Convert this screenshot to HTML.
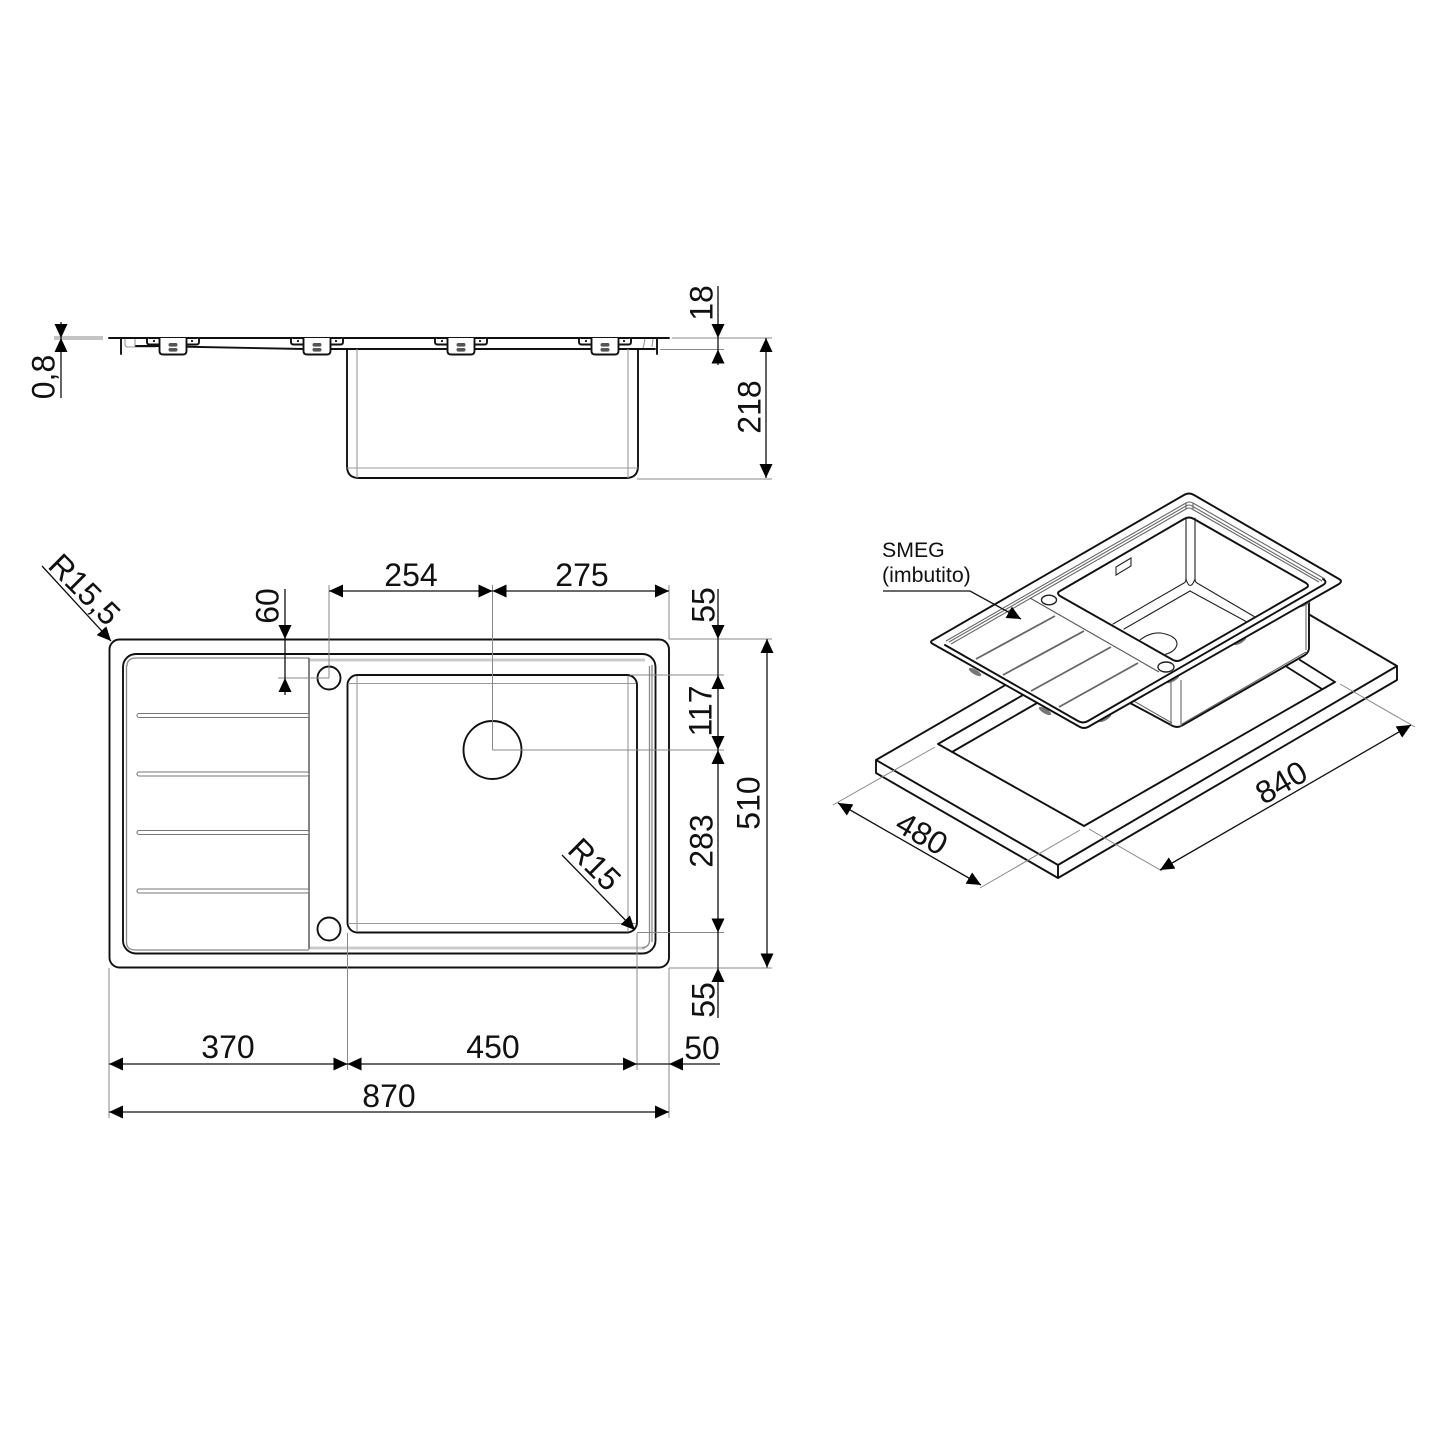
<!DOCTYPE html>
<html>
<head>
<meta charset="utf-8">
<style>
html,body{margin:0;padding:0;background:#fff}
svg{display:block}
text{font-family:"Liberation Sans",Arial,sans-serif;fill:#111}
.d text{font-size:32px;text-anchor:middle}
.b{fill:none;stroke:#111;stroke-width:1.9;stroke-linejoin:round;stroke-linecap:round}
.w{fill:#fff;stroke:#111;stroke-width:1.9;stroke-linejoin:round}
.t{fill:none;stroke:#222;stroke-width:1.1;stroke-linecap:round}
.g{fill:none;stroke:#999;stroke-width:1.1}
.gd{fill:none;stroke:#666;stroke-width:1.6}
.e{fill:none;stroke:#888;stroke-width:1}
.m{fill:none;stroke:#111;stroke-width:1.3}
</style>
</head>
<body>
<svg width="1431" height="1431" viewBox="0 0 1431 1431" xmlns="http://www.w3.org/2000/svg">
<defs>
<marker id="a" markerUnits="userSpaceOnUse" markerWidth="15" markerHeight="13" refX="14" refY="6.5" orient="auto-start-reverse"><path d="M0 0L14 6.5L0 13Z" fill="#000"/></marker>
<g id="br">
  <path class="w" d="M-26 338v4q0 2.5 2.5 2.5h10M26 338v4q0 2.5-2.5 2.5h-10"/>
  <path class="w" d="M-13.5 338v13q0 3.500 3.500 3.500h20q3.500 0 3.500-3.500v-13"/>
  <circle cx="-19" cy="341" r="1.100" fill="#111"/><circle cx="19" cy="341" r="1.100" fill="#111"/>
  <rect x="-4.500" y="343" width="9" height="3.600" rx="1.800" fill="#555"/>
  <rect x="-4.500" y="348" width="9" height="3.600" rx="1.800" fill="#555"/>
</g>
</defs>
<rect width="1431" height="1431" fill="#fff"/>

<!-- SIDE VIEW -->
<path class="b" d="M121 338V354M657 338V354M109 338H669"/>
<path class="g" d="M125 339v5q0 3 3 3h28M135 339v8M645 339l-2 10M653 339l-1 8"/>
<path class="b" d="M136 346H160M175 346.500L304 349H655"/>
<path class="b" d="M347 349V466Q347 478 359 478H626Q638 478 638 466V349"/>
<path class="g" d="M357 349V478M628 349V478M347 468H638"/>
<use href="#br" x="173"/><use href="#br" x="317"/><use href="#br" x="461"/><use href="#br" x="605"/>
<path class="e" d="M54 337H103M54 339H103M672 338H772M660 349.500H724M637 479H772"/>
<path class="m" d="M61 322V338" marker-end="url(#a)"/>
<path class="m" d="M61 398V338" marker-end="url(#a)"/>
<path class="m" d="M718 286V338" marker-end="url(#a)"/>
<path class="m" d="M718 338V349.500"/>
<path class="m" d="M718 365V349.500" marker-end="url(#a)"/>
<path class="m" d="M766 338V478" marker-start="url(#a)" marker-end="url(#a)"/>

<!-- PLAN VIEW -->
<path d="M309 658.500H645V661.500H309ZM309 946.500H645V949.500H309Z" fill="#ccc"/>
<rect class="b" x="109.500" y="639.500" width="559.500" height="328" rx="10"/>
<rect class="b" x="123" y="654" width="532.500" height="299.500" rx="13"/>
<path class="g" style="stroke-width:1.3;stroke:#888" d="M126.500 665V942Q126.500 950 135 950H309M127 666Q127 658 136 658H309M652 665V942M649.500 666V940Q649.500 947 642 948"/>
<path class="gd" d="M309 658V949"/>
<g fill="#fff" stroke="#777" stroke-width="1.100">
<rect x="137" y="713.500" width="172" height="4" rx="2"/>
<rect x="137" y="772" width="172" height="4" rx="2"/>
<rect x="137" y="830.500" width="172" height="4" rx="2"/>
<rect x="137" y="889" width="172" height="4" rx="2"/>
</g>
<rect class="b" x="347.500" y="675" width="289.500" height="257.500" rx="10"/>
<path class="g" d="M357 676V932M628 676V932M348 683.500H636M348 923.500H636"/>
<circle class="w" cx="329" cy="678" r="11.500"/>
<circle class="w" cx="329" cy="929" r="11.500"/>
<circle cx="492.500" cy="750" r="29" class="b"/>
<!-- extension lines -->
<path class="e" d="M329 585V678M492.500 585V750M669 585V639M278 678H329M669 639H772M630 675H724M492.500 750H724M637 932.500H724M669 968H772M109 968V1118M347.500 933V1070M637 933V1070M669 968V1118"/>
<!-- dimensions -->
<path class="m" d="M329 591H492.500" marker-start="url(#a)" marker-end="url(#a)"/>
<path class="m" d="M492.500 591H669" marker-start="url(#a)" marker-end="url(#a)"/>
<path class="m" d="M285 589V639" marker-end="url(#a)"/>
<path class="m" d="M285 639V678"/>
<path class="m" d="M285 695V678" marker-end="url(#a)"/>
<path class="m" d="M718 589V639" marker-end="url(#a)"/>
<path class="m" d="M718 639V675"/>
<path class="m" d="M718 675V750" marker-start="url(#a)" marker-end="url(#a)"/>
<path class="m" d="M718 750V932.500" marker-start="url(#a)" marker-end="url(#a)"/>
<path class="m" d="M718 932.500V968"/>
<path class="m" d="M718 1018V968" marker-end="url(#a)"/>
<path class="m" d="M767 639V967.500" marker-start="url(#a)" marker-end="url(#a)"/>
<path class="m" d="M109 1064H347.500" marker-start="url(#a)" marker-end="url(#a)"/>
<path class="m" d="M347.500 1064H637" marker-start="url(#a)" marker-end="url(#a)"/>
<path class="m" d="M637 1064H669"/>
<path class="m" d="M720 1064H669" marker-end="url(#a)"/>
<path class="m" d="M109 1112H669" marker-start="url(#a)" marker-end="url(#a)"/>
<path class="m" d="M42 566L111 641" marker-end="url(#a)"/>
<path class="m" d="M562 855L635 930" marker-end="url(#a)"/>

<!-- ISOMETRIC -->
<g>
<!-- worktop -->
<path class="b" d="M876 760V773L1058 878V865ZM1058 878L1397 680V666L1058 865M876 760L1040 665M1310 615L1397 666"/>
<path class="b" d="M938 744L1084 826L1335 682L1300 660M938 744L1030 691M952 752L1044 699M1322 689L1287 667"/>
<path class="e" d="M935 747L833 805M1080 830L980 888M1089 829L1162 871M1340 684L1415 727"/>
<path class="m" d="M838 803L981 885" marker-start="url(#a)" marker-end="url(#a)"/>
<path class="m" d="M1160 870L1411 725" marker-start="url(#a)" marker-end="url(#a)"/>
<!-- sink body -->
<path class="w" d="M1130 703L1171 725Q1177 729 1183 725L1305 655Q1309 652 1309 648V600L1170 680Z"/>
<path class="g" style="stroke:#666" d="M1171 680V725M1181 680V727M1182 724L1306 652M1132 700L1172 723M1306 604V650"/>
<!-- feet -->
<g fill="#777">
<ellipse cx="975" cy="672" rx="7" ry="2.500" transform="rotate(30 975 672)"/>
<ellipse cx="1045" cy="711" rx="7" ry="2.500" transform="rotate(30 1045 711)"/>
<ellipse cx="1105" cy="718" rx="7" ry="2.500" transform="rotate(-30 1105 718)"/>
<ellipse cx="1305" cy="603" rx="7" ry="2.500" transform="rotate(-30 1305 603)"/>
<ellipse cx="1240" cy="641" rx="7" ry="2.500" transform="rotate(-30 1240 641)"/>
<ellipse cx="1173" cy="679" rx="7" ry="2.500" transform="rotate(-30 1173 679)"/>
</g>
<!-- rim -->
<path class="w" d="M933 640L1184 495Q1189 492 1194 495L1339 579Q1343 581 1339 584L1088 727Q1084 729 1080 727L933 644Q929 642 933 640Z"/>
<path class="b" d="M945 645L1078 721Q1083 724 1088 721L1323 585Q1328 582 1323 579"/>
<path class="g" style="stroke:#666" d="M946 641L1186 503Q1189 501 1193 503L1325 579M949 642L1186 506Q1189 504 1192 506L1322 581M951 644L1186 509Q1189 507 1192 509L1319 582M1186 503V509M1193 503V509"/>
<!-- bowl opening -->
<path class="b" d="M1060 591L1184 519Q1189 516 1194 519L1306 583Q1310 586 1306 588L1181 660Q1177 662 1173 660L1060 596Q1056 593 1060 591Z"/>
<path class="t" d="M1186 518V579Q1186 582 1184 583L1113 624M1195 518V579Q1195 582 1197 583L1255 617M1190 591L1124 629M1190 591L1247 622M1186 579Q1190 592 1195 579"/>
<path class="t" d="M1140 640Q1150 632 1161 633Q1177 636 1177 644Q1176 652 1163 655"/>
<path class="gd" style="stroke-width:1.100;stroke:#555" d="M1030 598L1159 672"/>
<ellipse class="t" cx="1049" cy="600" rx="7.500" ry="4.800" style="stroke-width:1.400;fill:#fff"/>
<ellipse class="t" cx="1166" cy="667" rx="8" ry="5" style="stroke-width:1.400;fill:#fff"/>
<path class="t" d="M1116 567L1131 558V566L1116 575Z"/>
<g stroke="#666" stroke-width="1.800" fill="none">
<path d="M976 659L1055 616M1003 675L1084 631M1031 691L1111 647M1059 707L1138 663"/>
</g>
<path class="m" d="M883 591H970L1021 619" marker-end="url(#a)"/>
<text x="882" y="557" font-size="21.300">SMEG</text>
<text x="882" y="582" font-size="21.300">(imbutito)</text>
</g>

<!-- LABELS -->
<g class="d">
<text transform="translate(43 377) rotate(-90)" y="11.500">0,8</text>
<text transform="translate(701 303) rotate(-90)" y="11.500">18</text>
<text transform="translate(749 407) rotate(-90)" y="11.500">218</text>
<text transform="translate(85 589) rotate(45)" y="11.500">R15,5</text>
<text transform="translate(595 864) rotate(45)" y="11.500">R15</text>
<text x="411" y="586">254</text>
<text x="582" y="586">275</text>
<text transform="translate(267 606) rotate(-90)" y="11.500">60</text>
<text transform="translate(703 605) rotate(-90)" y="11.500">55</text>
<text transform="translate(700 711) rotate(-90)" y="11.500">117</text>
<text transform="translate(701 841) rotate(-90)" y="11.500">283</text>
<text transform="translate(748 803) rotate(-90)" y="11.500">510</text>
<text transform="translate(703 1000) rotate(-90)" y="11.500">55</text>
<text x="228" y="1058">370</text>
<text x="493" y="1058">450</text>
<text x="702" y="1059">50</text>
<text x="389" y="1107">870</text>
<text transform="translate(922 833) rotate(30)" y="11.500">480</text>
<text transform="translate(1281 782) rotate(-30)" y="11.500">840</text>
</g>
</svg>
</body>
</html>
